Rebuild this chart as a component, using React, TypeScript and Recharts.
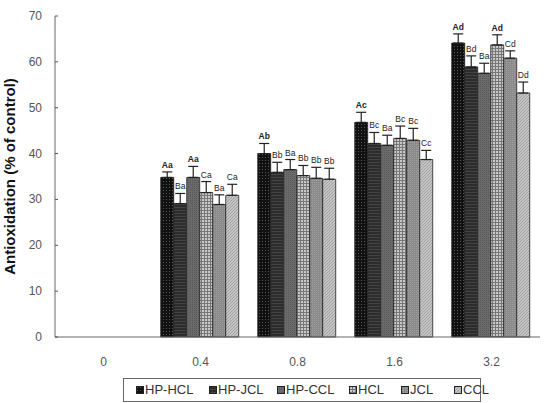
import { BarChart, Bar, XAxis, YAxis, ErrorBar, LabelList, Legend } from "recharts"

const categories = ["0", "0.4", "0.8", "1.6", "3.2"]

const seriesNames = ["HP-HCL", "HP-JCL", "HP-CCL", "HCL", "JCL", "CCL"]

const hpHcl = [null, 34.8, 40.0, 46.8, 64.1]
const hpJcl = [null, 29.1, 35.9, 42.2, 58.9]
const hpCcl = [null, 34.8, 36.5, 41.8, 57.5]
const hcl = [null, 31.5, 35.2, 43.3, 63.7]
const jcl = [null, 28.9, 34.6, 42.9, 60.8]
const ccl = [null, 30.9, 34.4, 38.7, 53.2]

const hpHclErr = [null, 1.2, 2.2, 2.2, 2.0]
const hpJclErr = [null, 2.2, 2.2, 2.4, 2.4]
const hpCclErr = [null, 2.4, 2.2, 2.2, 2.2]
const hclErr = [null, 2.4, 2.2, 2.7, 2.2]
const jclErr = [null, 2.1, 2.4, 2.6, 1.6]
const cclErr = [null, 2.4, 2.4, 2.0, 2.4]

const hpHclSig = ["", "Aa", "Ab", "Ac", "Ad"]
const hpJclSig = ["", "Ba", "Bb", "Bc", "Bd"]
const hpCclSig = ["", "Aa", "Ba", "Ba", "Ba"]
const hclSig = ["", "Ca", "Bb", "Bc", "Ad"]
const jclSig = ["", "Ba", "Bb", "Bc", "Cd"]
const cclSig = ["", "Ca", "Bb", "Cc", "Dd"]

const values = [hpHcl, hpJcl, hpCcl, hcl, jcl, ccl]
const errors = [hpHclErr, hpJclErr, hpCclErr, hclErr, jclErr, cclErr]
const sigs = [hpHclSig, hpJclSig, hpCclSig, hclSig, jclSig, cclSig]

const data = categories.map((c, i) => {
  const row: any = { dose: c }
  values.forEach((v, s) => {
    row["s" + s] = v[i]
    row["e" + s] = errors[s][i] == null ? null : [0, errors[s][i]]
  })
  return row
})

const FONT = "'Liberation Sans', Arial, sans-serif"

function Patterns() {
  return (
    <defs>
      <pattern id="p0" width="3" height="3" patternUnits="userSpaceOnUse">
        <rect width="3" height="3" fill="#111" />
        <rect x="1" y="1" width="1" height="1" fill="#555" />
      </pattern>
      <pattern id="p1" width="3" height="3" patternUnits="userSpaceOnUse">
        <rect width="3" height="3" fill="#2c2c2c" />
        <rect y="0" width="3" height="1" fill="#444" />
      </pattern>
      <pattern id="p2" width="2" height="2" patternUnits="userSpaceOnUse">
        <rect width="2" height="2" fill="#6a6a6a" />
        <rect width="1" height="1" fill="#5a5a5a" />
      </pattern>
      <pattern id="p3" width="3" height="3" patternUnits="userSpaceOnUse">
        <rect width="3" height="3" fill="#c8c8c8" />
        <rect width="3" height="1" fill="#777" />
        <rect width="1" height="3" fill="#777" />
      </pattern>
      <pattern id="p4" width="2" height="2" patternUnits="userSpaceOnUse">
        <rect width="2" height="2" fill="#8a8a8a" />
        <rect width="1" height="1" fill="#a0a0a0" />
      </pattern>
      <pattern id="p5" width="3" height="3" patternUnits="userSpaceOnUse">
        <rect width="3" height="3" fill="#c4c4c4" />
        <path d="M0 3 L3 0" stroke="#999" strokeWidth="0.8" />
      </pattern>
    </defs>
  )
}

// LabelList index skips the empty "0" group, so find the row by its value
function makeSigLabel(s: number) {
  return (props: any) => {
    const { x, y, width, height, value } = props
    const i = values[s].indexOf(value)
    if (i < 0) return null
    const v = values[s][i] as number
    const e = errors[s][i] as number
    const pxPerUnit = height / v
    const ty = y - e * pxPerUnit - 4
    const bold = sigs[s][i][0] === "A"
    return (
      <text
        x={x + width / 2}
        y={ty}
        textAnchor="middle"
        fontSize={8.5}
        fontFamily={FONT}
        fontWeight={bold ? "bold" : "normal"}
        fill="#222"
      >
        {sigs[s][i]}
      </text>
    )
  }
}

function YTick(props: any) {
  const { x, y, payload } = props
  return (
    <g>
      <text x={x} y={y} dy={4} textAnchor="end" fontSize={12} fontFamily={FONT} fill="#555">
        {payload.value}
      </text>
      <line x1={x + 13} x2={x + 16} y1={y} y2={y} stroke="#555" />
    </g>
  )
}

function LegendBox() {
  const xs = [0, 73, 141, 213, 265, 318]
  return (
    <div
      style={{
        width: 356,
        height: 22,
        border: "1px solid #666",
        position: "relative",
        fontFamily: FONT,
        fontSize: 13,
        color: "#333",
        boxSizing: "content-box",
      }}
    >
      {seriesNames.map((n, i) => (
        <div
          key={n}
          style={{ position: "absolute", left: 12 + xs[i], top: 3, display: "flex", alignItems: "center", whiteSpace: "nowrap" }}
        >
          <svg width={8} height={8} style={{ marginRight: 1 }}>
            <Patterns />
            <rect x={0.5} y={0.5} width={7} height={7} fill={`url(#p${i})`} stroke="#222" />
          </svg>
          <span>{n}</span>
        </div>
      ))}
    </div>
  )
}

export default function App() {
  return (
    <div style={{ position: "absolute", left: 0, top: 0 }}>
      <BarChart
        width={552}
        height={403}
        data={data}
        margin={{ top: 16, right: 12, left: 0, bottom: 2 }}
        barCategoryGap="9%"
        barGap={0}
      >
        <Patterns />
        <XAxis
          dataKey="dose"
          height={40}
          tickLine={false}
          axisLine={{ stroke: "#666" }}
          tick={{ fontSize: 12, fontFamily: FONT, fill: "#555" }}
          tickMargin={14}
        />
        <XAxis xAxisId="top" orientation="top" dataKey="dose" height={0} tick={false} tickLine={false} axisLine={{ stroke: "#666" }} />
        <YAxis
          domain={[0, 70]}
          ticks={[0, 10, 20, 30, 40, 50, 60, 70]}
          width={55}
          tickSize={0}
          tickMargin={13}
          axisLine={{ stroke: "#666" }}
          tick={<YTick />}
          label={{
            value: "Antioxidation (% of control)",
            angle: -90,
            position: "insideLeft",
            offset: 10,
            style: { fontSize: 15, fontWeight: "bold", fontFamily: FONT, fill: "#111", textAnchor: "middle" },
          }}
        />
        <YAxis yAxisId="right" orientation="right" width={0} tick={false} tickLine={false} axisLine={{ stroke: "#666" }} />
        <Legend
          verticalAlign="bottom"
          content={() => <LegendBox />}
          wrapperStyle={{ left: 123, bottom: 1, width: 358, height: 24 }}
        />
        {seriesNames.map((n, s) => (
          <Bar
            key={n}
            dataKey={"s" + s}
            name={n}
            fill={`url(#p${s})`}
            stroke="#222"
            strokeWidth={0.8}
            isAnimationActive={false}
          >
            <ErrorBar dataKey={"e" + s} width={5} stroke="#222" strokeWidth={1.2} direction="y" />
            <LabelList dataKey={"s" + s} content={makeSigLabel(s)} />
          </Bar>
        ))}
      </BarChart>
    </div>
  )
}
